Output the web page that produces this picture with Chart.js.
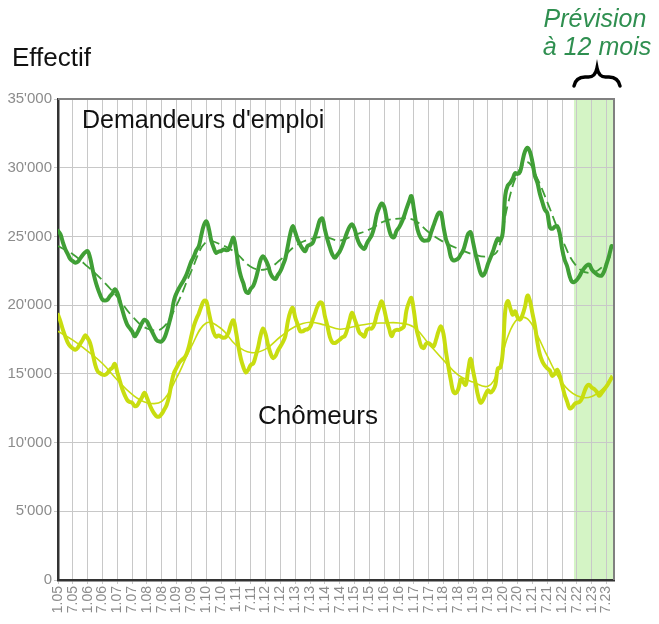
<!DOCTYPE html>
<html>
<head>
<meta charset="utf-8">
<script src="https://cdn.jsdelivr.net/npm/chart.js@4"></script>
<style>
  html, body { margin: 0; padding: 0; background: #fff; }
  #wrap { width: 659px; height: 624px; }
</style>
</head>
<body>
<div id="wrap"><canvas id="chart" width="659" height="624"></canvas></div>
<script>
// --- Data: monthly values from Jan 2005 (month 0) ---
const demandeurs = [
  25400, 25150, 24550, 24050, 23700, 23350, 23200, 23080, 23150, 23400, 23650, 23850,
  23930, 23450, 22600, 21850, 21250, 20770, 20400, 20330, 20400, 20650, 20850, 21150,
  20900, 20280, 19670, 19060, 18580, 18330, 18090, 17730, 17970, 18330, 18700, 18940,
  18820, 18450, 18090, 17730, 17430, 17360, 17360, 17600, 18090, 18700, 19430, 20400,
  20890, 21250, 21550, 21860, 22230, 22720, 23200, 23550, 24000, 24300, 25100, 25800,
  26100, 25600, 24700, 24170, 23810, 23900, 23930, 24050, 24000, 24050, 24500, 24900,
  24100, 22900, 22100, 21600, 21000, 20890, 21200, 21400, 21900, 22600, 23300, 23560,
  23300, 22900, 22300, 22000, 21910, 22200, 22470, 22900, 23400, 24300, 25200, 25750,
  25300, 24780, 24400, 24100, 23930, 24300, 24400, 24500, 25000, 25600, 26200, 26300,
  25500, 24800, 24200, 23700, 23450, 23650, 23900, 24300, 24800, 25300, 25700, 25880,
  25550, 24900, 24450, 24200, 24100, 24500, 24800, 25100, 25700, 26600, 27100, 27400,
  27150, 26300, 25500, 25000, 24950, 25400, 25650, 26000, 26450, 27000, 27500, 27940,
  27000, 25900, 25200, 24850, 24700, 24700, 24750, 25300, 25800, 26300, 26700, 26700,
  25700, 24800, 24300, 23500, 23250, 23300, 23400, 23700, 24000, 24600, 25200, 25300,
  24550, 23700, 23000, 22350, 22150, 22450, 23000, 23450, 23900, 24450, 24850, 24700,
  25300, 28000, 28700, 28900, 29200, 29600, 29550, 29700, 30500, 31200, 31450, 31150,
  30400, 29400, 28900, 28100, 27500, 26950, 26700, 25700, 25550, 25700, 25750, 25250,
  24100, 23300, 22850, 22150, 21700, 21700, 21850, 22100, 22450, 22700, 22900, 22950,
  22600, 22400, 22250, 22150, 22150, 22450, 23000, 23600, 24300
];

const chomeurs = [
  19300, 18800, 18200, 17700, 17250, 17000, 16850, 16750, 16900, 17200, 17480, 17800,
  17600, 17240, 16500, 15700, 15200, 15050, 14950, 14930, 15050, 15300, 15450, 15730,
  15100, 14500, 13900, 13450, 13100, 12950, 12900, 12660, 12700, 13000, 13300, 13630,
  13250, 12800, 12400, 12100, 11900, 11900, 12100, 12400, 12750, 13400, 14400, 15100,
  15450, 15800, 16000, 16150, 16450, 17000, 17800, 18500, 19000, 19400, 19900, 20300,
  20300, 19500, 18700, 18000, 17700, 17800, 17700, 17620, 17700, 18000, 18600, 18900,
  18100, 17000, 16100, 15500, 15100, 15300, 15650, 15750, 16300, 16950, 17800, 18300,
  17900, 17100, 16500, 16150, 16300, 16700, 17000, 17300, 17750, 18800, 19500, 19800,
  19100, 18600, 18100, 18100, 18200, 18250, 18400, 18900, 19400, 19900, 20200, 20100,
  19200, 18500, 17700, 17300, 17240, 17350, 17480, 17650, 17750, 18210, 18900, 19450,
  19000, 18500, 18000, 17850, 17720, 18200, 18300, 18300, 18600, 19300, 19850, 20280,
  19700, 18900, 18300, 17750, 18100, 18200, 18200, 18300, 18450, 19600, 20200, 20520,
  19600, 18300, 17600, 17000, 16880, 17200, 17230, 17100, 16990, 17500, 18100, 18450,
  17900, 16600, 15500, 14500, 13700, 13600, 13900, 14600, 14400, 14200, 15300, 16100,
  15200, 14300, 13400, 12900, 13100, 13500, 13800, 13650, 13800, 14200, 15400, 15450,
  16600, 19600, 20300, 19800, 19300, 19550, 19100, 18950, 19300, 19900, 20700, 20300,
  19400, 18500, 17300, 16400, 15900, 15600, 15400, 15250, 14850, 15000, 15300, 14900,
  14200, 13500, 13000, 12500, 12550, 12800, 12900, 12950, 13200, 13700, 14100, 14200,
  14000, 13900, 13700, 13400, 13600, 13850, 14100, 14400, 14700
];

// smoothed trends, sampled at these months
const trendMonths = [0, 6, 12, 18, 24, 30, 36, 42, 48, 54, 60, 66, 72, 78, 84, 90, 96, 102, 108,
  114, 120, 126, 132, 138, 144, 150, 156, 162, 168, 174, 178, 182, 186, 190, 194, 198, 204,
  210, 216, 222, 224];
const demandeursTrend = [24300, 23700, 22800, 21800, 20600, 19200, 18300, 18300, 20000, 22500,
  24600, 24400, 23800, 22800, 22600, 23300, 24300, 24800, 24950, 24700, 25100, 25500, 26100,
  26300, 26200, 25300, 24600, 24100, 23700, 23550, 24000, 27300, 29600, 30400, 29200, 27500,
  24800, 22800, 22350, 23100, 23800];
const chomeursTrend = [18100, 17450, 16650, 15750, 14550, 13500, 12900, 13000, 14700, 17000,
  18700, 18300, 17100, 16550, 16800, 17700, 18450, 18750, 18550, 18250, 18450, 18650, 18700,
  18700, 18400, 17200, 16000, 14900, 14400, 14100, 15200, 17700, 19000, 19000, 17800, 16300,
  14350, 13400, 13350, 14200, 14900];

const tickMonths = [0, 6, 12, 18, 24, 30, 36, 42, 48, 54, 60, 66, 72, 78, 84, 90, 96, 102, 108,
  114, 120, 126, 132, 138, 144, 150, 156, 162, 168, 174, 180, 186, 192, 198, 204, 210, 216, 222];
const tickLabels = ['1.05', '7.05', '1.06', '7.06', '1.07', '7.07', '1.08', '7.08', '1.09', '7.09',
  '1.10', '7.10', '1.11', '7.11', '1.12', '7.12', '1.13', '7.13', '1.14', '7.14', '1.15', '7.15',
  '1.16', '7.16', '1.17', '7.17', '1.18', '7.18', '1.19', '7.19', '1.20', '7.20', '1.21', '7.21',
  '1.22', '7.22', '1.23', '7.23'];

const forecastStart = 208.8;
const lastMonth = 225;

// --- Colours ---
const GREEN = '#409f36';
const LIME = '#c8dd10';
const SHADE = '#d4f4c5';
const SANS = '"Liberation Sans", Arial, sans-serif';

function toPoints(xs, ys) {
  return ys.map((v, i) => ({ x: xs[i], y: v }));
}
const months = demandeurs.map((v, i) => i);

// --- Plugin: background, forecast band, frame and texts ---
const overlay = {
  id: 'overlay',
  beforeDraw(chart) {
    const ctx = chart.ctx;
    const area = chart.chartArea;
    const x = chart.scales.x;
    ctx.save();
    ctx.fillStyle = '#fff';
    ctx.fillRect(0, 0, chart.width, chart.height);
    const x0 = x.getPixelForValue(forecastStart);
    ctx.fillStyle = SHADE;
    ctx.fillRect(x0, area.top, area.right - x0, area.bottom - area.top);
    ctx.restore();
  },
  afterDraw(chart) {
    const ctx = chart.ctx;
    const area = chart.chartArea;
    ctx.save();
    // top and right frame
    ctx.strokeStyle = '#808080';
    ctx.lineWidth = 2;
    ctx.beginPath();
    ctx.moveTo(area.left, area.top);
    ctx.lineTo(area.right, area.top);
    ctx.lineTo(area.right, area.bottom);
    ctx.stroke();

    ctx.fillStyle = '#111';
    ctx.textBaseline = 'alphabetic';
    ctx.textAlign = 'left';
    ctx.font = '26px ' + SANS;
    ctx.fillText('Effectif', 12, 66);
    ctx.fillText('Chômeurs', 258, 424);
    ctx.font = '25px ' + SANS;
    ctx.fillText("Demandeurs d'emploi", 82, 128);

    ctx.fillStyle = '#2f8f50';
    ctx.textAlign = 'center';
    ctx.font = 'italic 25px ' + SANS;
    ctx.fillText('Prévision', 595, 27);
    ctx.fillText('à 12 mois', 597, 55);

    // brace over the forecast band
    ctx.strokeStyle = '#000';
    ctx.lineWidth = 3.5;
    ctx.lineCap = 'round';
    ctx.beginPath();
    ctx.moveTo(574, 86);
    ctx.quadraticCurveTo(576, 76, 587, 77);
    ctx.quadraticCurveTo(595, 78, 597, 68);
    ctx.quadraticCurveTo(599, 78, 607, 77);
    ctx.quadraticCurveTo(618, 76, 620, 86);
    ctx.stroke();
    ctx.restore();
  }
};

const ctx = document.getElementById('chart').getContext('2d');
new Chart(ctx, {
  type: 'line',
  data: {
    datasets: [
      {
        label: 'Demandeurs tendance',
        data: toPoints(trendMonths, demandeursTrend),
        borderColor: GREEN,
        borderWidth: 1.8,
        borderDash: [10, 5],
        pointRadius: 0,
        tension: 0.4,
        fill: false
      },
      {
        label: 'Chômeurs tendance',
        data: toPoints(trendMonths, chomeursTrend),
        borderColor: LIME,
        borderWidth: 1.6,
        pointRadius: 0,
        tension: 0.4,
        fill: false
      },
      {
        label: "Demandeurs d'emploi",
        data: toPoints(months, demandeurs),
        borderColor: GREEN,
        borderWidth: 4,
        pointRadius: 0,
        tension: 0.4,
        borderCapStyle: 'round',
        borderJoinStyle: 'round',
        fill: false
      },
      {
        label: 'Chômeurs',
        data: toPoints(months, chomeurs),
        borderColor: LIME,
        borderWidth: 4,
        pointRadius: 0,
        tension: 0.4,
        borderCapStyle: 'round',
        borderJoinStyle: 'round',
        fill: false
      }
    ]
  },
  options: {
    responsive: false,
    animation: false,
    devicePixelRatio: 1,
    layout: { padding: { top: 99, right: 45, left: 0, bottom: 0 } },
    plugins: {
      legend: { display: false },
      tooltip: { enabled: false }
    },
    scales: {
      x: {
        type: 'linear',
        min: 0,
        max: lastMonth,
        afterBuildTicks: function(scale) {
          scale.ticks = tickMonths.map(v => ({ value: v }));
        },
        afterFit: function(scale) { scale.height = 44; },
        ticks: {
          autoSkip: false,
          minRotation: 90,
          maxRotation: 90,
          padding: 2,
          color: '#8c8c8c',
          font: { family: SANS, size: 14 },
          callback: function(value, index) { return tickLabels[index]; }
        },
        grid: { color: '#c8c8c8', lineWidth: 1, tickLength: 4 },
        border: { color: '#333', width: 2.5 }
      },
      y: {
        min: 0,
        max: 35000,
        afterFit: function(scale) { scale.width = 58; },
        ticks: {
          stepSize: 5000,
          padding: 2,
          color: '#8c8c8c',
          font: { family: SANS, size: 15 },
          callback: function(value) {
            return value === 0 ? '0' : (value / 1000) + "'000";
          }
        },
        grid: { color: '#c8c8c8', lineWidth: 1, tickLength: 4 },
        border: { color: '#333', width: 2.5 }
      }
    }
  },
  plugins: [overlay]
});
</script>
</body>
</html>
